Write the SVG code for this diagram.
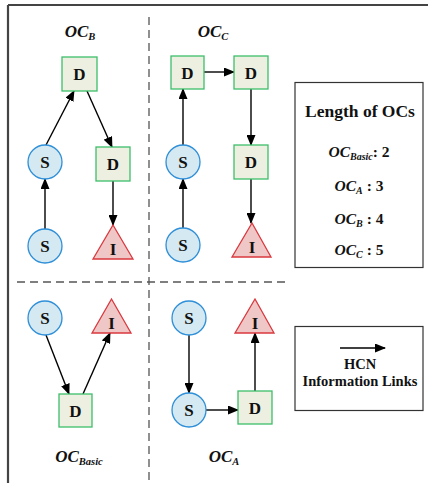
<svg xmlns="http://www.w3.org/2000/svg" width="428" height="483" viewBox="0 0 428 483">
<defs>
<marker id="ah" markerUnits="userSpaceOnUse" markerWidth="11" markerHeight="9" refX="10" refY="4.5" orient="auto">
<path d="M0,0 L11,4.5 L0,9 z" fill="#000"/>
</marker>
<style>
.s{fill:#d4e9f1;stroke:#2f8fd8;stroke-width:1.3}
.d{fill:#edf0e0;stroke:#3dbd6b;stroke-width:1.3}
.i{fill:#f0c7c7;stroke:#d9383e;stroke-width:1.3}
.lb{font-family:"Liberation Serif","Times New Roman",serif;font-weight:bold;font-size:17px;text-anchor:middle;fill:#111}
.t{font-family:"Liberation Serif","Times New Roman",serif;font-weight:bold;font-style:italic;font-size:17px;text-anchor:middle;fill:#111}
.lg{font-family:"Liberation Serif","Times New Roman",serif;font-weight:bold;text-anchor:middle;fill:#111}
.c{stroke:#000;stroke-width:1.4;fill:none;marker-end:url(#ah)}
.dash{stroke:#555;stroke-width:1.3;stroke-dasharray:8 5;fill:none}
.box{fill:#fff;stroke:#333;stroke-width:1.2}
</style>
</defs>
<rect width="428" height="483" fill="#fff"/>
<g id="frame">
<path d="M8,5 H428 M8,5 V483" stroke="#444" stroke-width="2.2" fill="none"/>
<line class="dash" x1="149" y1="17" x2="149" y2="483"/>
<line class="dash" x1="17" y1="282" x2="286" y2="282"/>
</g>
<g id="titles">
<text class="t" x="80" y="37">OC<tspan font-size="10.5" dy="3">B</tspan></text>
<text class="t" x="213" y="37">OC<tspan font-size="10.5" dy="3">C</tspan></text>
<text class="t" x="79" y="462">OC<tspan font-size="10.5" dy="3">Basic</tspan></text>
<text class="t" x="224" y="462">OC<tspan font-size="10.5" dy="3">A</tspan></text>
</g>
<g id="connectors">
<line class="c" x1="45" y1="229" x2="45" y2="179"/>
<line class="c" x1="46" y1="145" x2="74" y2="91"/>
<line class="c" x1="87" y1="91" x2="112" y2="147"/>
<line class="c" x1="113" y1="181" x2="113" y2="225"/>
<line class="c" x1="183" y1="228" x2="183" y2="179"/>
<line class="c" x1="183" y1="145" x2="183" y2="89"/>
<line class="c" x1="204" y1="72" x2="234" y2="72"/>
<line class="c" x1="251" y1="89" x2="251" y2="145"/>
<line class="c" x1="251" y1="179" x2="251" y2="223"/>
<line class="c" x1="46" y1="335" x2="69" y2="394"/>
<line class="c" x1="83" y1="394" x2="110" y2="333"/>
<line class="c" x1="189" y1="335" x2="189" y2="393"/>
<line class="c" x1="206" y1="410" x2="238" y2="410"/>
<line class="c" x1="255" y1="391" x2="255" y2="333"/>
</g>
<g id="B_D1"><rect class="d" x="62" y="57" width="35" height="34"/><text class="lb" x="79.5" y="80">D</text></g>
<g id="B_S1"><circle class="s" cx="45" cy="162" r="17"/><text class="lb" x="45" y="168">S</text></g>
<g id="B_D2"><rect class="d" x="96" y="147" width="34" height="34"/><text class="lb" x="113" y="170">D</text></g>
<g id="B_S0"><circle class="s" cx="45" cy="246" r="17"/><text class="lb" x="45" y="252">S</text></g>
<g id="B_I"><path class="i" d="M113,225 L133,259 L93,259 z"/><text class="lb" x="113" y="255">I</text></g>
<g id="C_D1"><rect class="d" x="171" y="56" width="33" height="33"/><text class="lb" x="187.5" y="78.5">D</text></g>
<g id="C_D2"><rect class="d" x="234" y="56" width="34" height="33"/><text class="lb" x="251" y="78.5">D</text></g>
<g id="C_S1"><circle class="s" cx="183" cy="162" r="17"/><text class="lb" x="183" y="168">S</text></g>
<g id="C_D3"><rect class="d" x="234" y="145" width="34" height="34"/><text class="lb" x="251" y="168">D</text></g>
<g id="C_S0"><circle class="s" cx="183" cy="245" r="17"/><text class="lb" x="183" y="251">S</text></g>
<g id="C_I"><path class="i" d="M252,223 L271,257 L232,257 z"/><text class="lb" x="252" y="253">I</text></g>
<g id="BA_S"><circle class="s" cx="45" cy="318" r="17"/><text class="lb" x="45" y="324">S</text></g>
<g id="BA_I"><path class="i" d="M111.5,299 L131,333 L92,333 z"/><text class="lb" x="111.5" y="329">I</text></g>
<g id="BA_D"><rect class="d" x="59" y="394" width="33" height="33"/><text class="lb" x="75.5" y="416.5">D</text></g>
<g id="A_S1"><circle class="s" cx="189" cy="318" r="17"/><text class="lb" x="189" y="324">S</text></g>
<g id="A_S2"><circle class="s" cx="189" cy="410" r="17"/><text class="lb" x="189" y="416">S</text></g>
<g id="A_D"><rect class="d" x="238" y="391" width="34" height="33"/><text class="lb" x="255" y="413.5">D</text></g>
<g id="A_I"><path class="i" d="M255,299 L274,333 L235,333 z"/><text class="lb" x="255" y="329">I</text></g>
<g id="legend_length">
<rect class="box" x="295" y="82.5" width="128" height="185"/>
<text class="lg" x="360" y="117" font-size="17.5">Length of OCs</text>
<text class="lg" x="359" y="157" font-size="15.5"><tspan font-style="italic">OC</tspan><tspan font-style="italic" font-size="10" dy="3">Basic</tspan><tspan dy="-3">: 2</tspan></text>
<text class="lg" x="359" y="191" font-size="15.5"><tspan font-style="italic">OC</tspan><tspan font-style="italic" font-size="10" dy="3">A</tspan><tspan dy="-3"> : 3</tspan></text>
<text class="lg" x="359" y="224" font-size="15.5"><tspan font-style="italic">OC</tspan><tspan font-style="italic" font-size="10" dy="3">B</tspan><tspan dy="-3"> : 4</tspan></text>
<text class="lg" x="359" y="255" font-size="15.5"><tspan font-style="italic">OC</tspan><tspan font-style="italic" font-size="10" dy="3">C</tspan><tspan dy="-3"> : 5</tspan></text>
</g>
<g id="legend_links">
<rect class="box" x="295" y="326.5" width="128" height="84"/>
<line class="c" x1="340" y1="348" x2="385" y2="348"/>
<text class="lg" x="360" y="369" font-size="14.5">HCN</text>
<text class="lg" x="360" y="386" font-size="14.5">Information Links</text>
</g>
</svg>
